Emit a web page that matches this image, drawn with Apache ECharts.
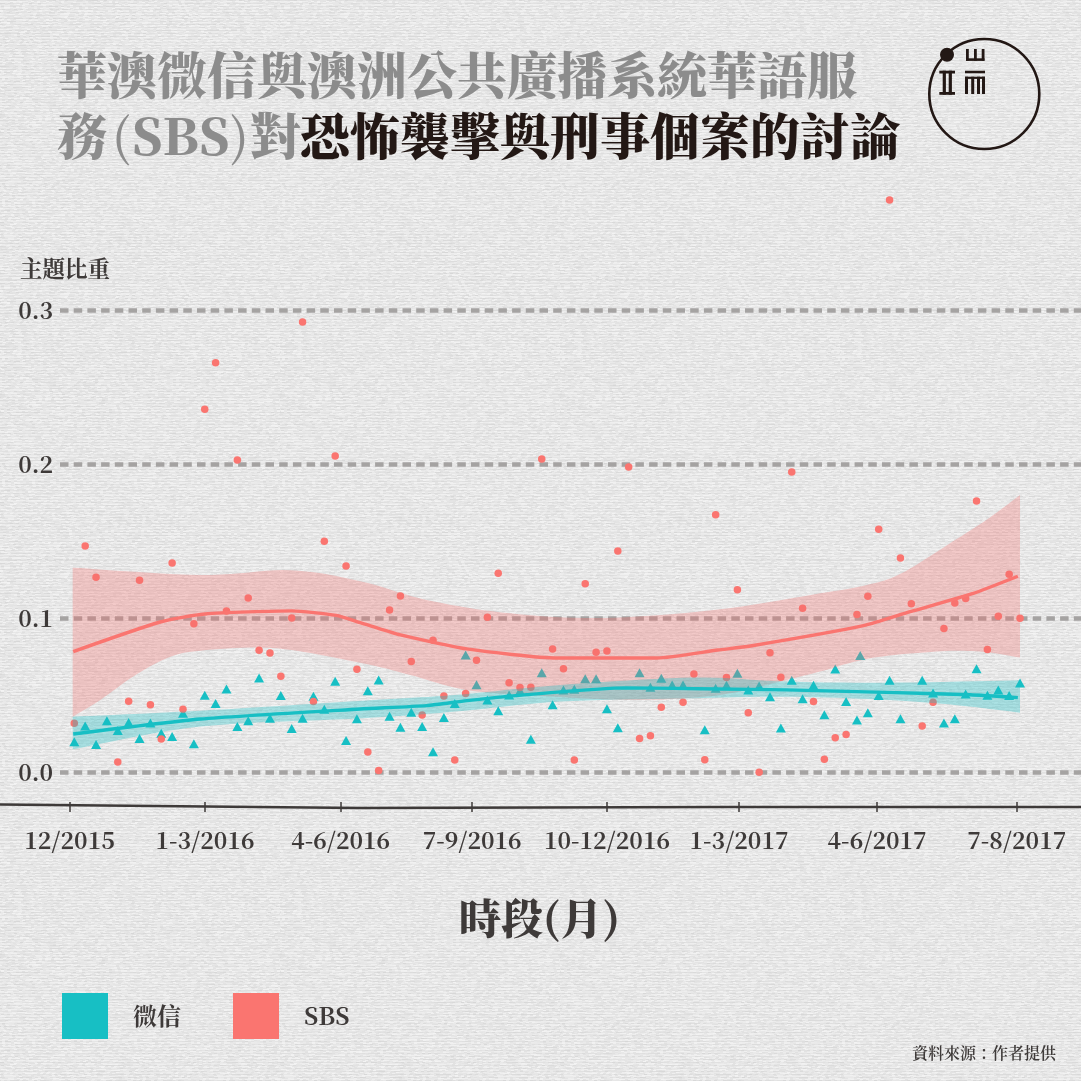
<!DOCTYPE html>
<html>
<head>
<meta charset="utf-8">
<title>華澳微信與澳洲公共廣播系統華語服務(SBS)對恐怖襲擊與刑事個案的討論</title>
<style>
html,body{margin:0;padding:0;background:#e3e3e3;}
#echarts_main{width:1081px;height:1081px;}
</style>
<script src="https://cdn.jsdelivr.net/npm/echarts@6/dist/echarts.min.js"></script>
</head>
<body>
<div id="echarts_main"></div>
<script type="text/javascript">
// 時段 (x is counted in weeks from the first point)
var tickWeeks = [-0.44, 12.02, 24.5, 36.6, 49.0, 61.15, 73.85, 86.7];
var tickLabels = ['12/2015', '1-3/2016', '4-6/2016', '7-9/2016', '10-12/2016', '1-3/2017', '4-6/2017', '7-8/2017'];
var shareTicks = [0, 0.1, 0.2, 0.3];

// 微信 points
var wechatWeek = [0,1,2,3,4,5,6,7,8,9,10,11,12,13,14,15,16,17,18,19,20,21,22,23,24,25,26,27,28,29,30,31,32,33,34,35,36,37,38,39,40,41,42,43,44,45,46,47,48,49,50,52,53,54,55,56,58,59,60,61,62,63,64,65,66,67,68,69,70,71,72,72.3,73,74,75,76,78,79,80,81,82,83,84,85,86,87];
var wechatShare = [.0199,.0301,.018,.0335,.0271,.0323,.0219,.032,.0253,.0232,.0383,.0186,.05,.0446,.0541,.0297,.0335,.0613,.0351,.0498,.0284,.0351,.0494,.0409,.0591,.0206,.0348,.053,.06,.0364,.0292,.039,.0297,.0134,.0355,.0446,.0762,.0569,.047,.04,.0502,.053,.0214,.0647,.0439,.0535,.0539,.0608,.0608,.0413,.029,.0647,.0552,.061,.0567,.0567,.0277,.0545,.0565,.0643,.0535,.0561,.0491,.0288,.0597,.0478,.0565,.0374,.0671,.0459,.034,.0758,.0387,.0498,.0597,.0348,.0597,.0515,.032,.0348,.0509,.0673,.05,.0535,.0498,.058];

// SBS points
var sbsWeek = [0,1,2,4,5,6,7,8,9,10,11,12,13,14,15,16,17,18,19,20,21,22,23,24,25,26,27,28,29,30,31,32,33,34,35,36,37,38,39,40,41,42,43,44,45,46,47,48,49,50,51,52,53,54,56,57,58,59,60,61,62,63,64,65,66,67,68,69,70,71,72,73,74,75,76,77,78,79,80,81,82,83,84,85,86,87];
var sbsShare = [.0318,.147,.1266,.0067,.0461,.1247,.0439,.0216,.1359,.0409,.0965,.2357,.266,.1048,.2028,.1132,.0792,.0775,.0623,.1002,.2924,.0459,.15,.2054,.134,.0669,.0132,.0011,.1054,.1145,.0719,.0372,.0857,.0496,.008,.0511,.0727,.1006,.1292,.0582,.055,.0552,.2034,.0801,.0673,.008,.1225,.0779,.0788,.1437,.1982,.0219,.0238,.0422,.0455,.0639,.0082,.1673,.0615,.1186,.0387,0,.0777,.0617,.195,.1065,.0459,.0084,.0225,.0245,.1024,.1143,.1578,.3716,.1392,.1095,.0301,.0455,.0933,.11,.1128,.1762,.0797,.1013,.1286,.1];

// smoothed trend and its confidence band, read at the visible turning points
var wechatTrendWeek = [-0.1,11.6,26.3,32.4,36.1,41.6,50.8,59.3,65.5,74.7,82.4,86.8];
var wechatTrend = [.0249,.0346,.0411,.0433,.0465,.0504,.0548,.0541,.0535,.0519,.0504,.0485];
var wechatUpperWeek = [-0.15,11.6,26.5,35,44.7,57,65.5,74.7,87];
var wechatUpper = [.0361,.04,.0465,.0502,.0567,.0615,.0589,.0582,.0597];
var wechatLowerWeek = [-0.15,11.6,26.5,35,44.7,57,65.5,74.7,81,87];
var wechatLower = [.0149,.0297,.0351,.0394,.0459,.048,.0491,.047,.0437,.0387];

var sbsTrendWeek = [-0.1,7.9,12,20,24.1,26.3,30,36.1,44.4,53.6,59.2,62.2,72.6,76.9,82.7,86.8];
var sbsTrend = [.0784,.0976,.1028,.1048,.1019,.0972,.0892,.0801,.0742,.0742,.0794,.082,.0952,.1043,.1162,.1273];
var sbsUpperWeek = [-0.15,11.6,19.9,26.5,32.4,40.1,48.7,59.4,68.6,72.9,76.1,80.8,83.9,87];
var sbsUpper = [.1329,.1281,.1312,.1238,.1119,.1032,.1002,.1058,.1162,.1216,.1292,.1498,.1639,.18];
var sbsLowerWeek = [-0.15,2.4,5.4,8.5,11.6,18.6,26.5,30.9,36.1,43,51.7,59.4,65.5,68.6,73.2,79.3,83.3,87];
var sbsLower = [.0361,.047,.0621,.074,.079,.0805,.0708,.0632,.0535,.0495,.047,.0502,.06,.0654,.074,.0784,.0784,.0745];

var TEAL = '#17bfc4';
var RED = '#fa7570';
var INK = '#3e3a39';
var SERIF = '"Noto Serif CJK TC","Liberation Serif",serif';

function zip(xs, ys){
	var out = [];
	for(var i = 0; i < xs.length; i++){ out.push([xs[i], ys[i]]); }
	return out;
}

// paper texture, uses a fixed hash so every render is the same
function paper(){
	var c = document.createElement('canvas');
	c.width = c.height = 280;
	var ctx = c.getContext('2d');
	var img = ctx.createImageData(280, 280);
	function h(a, b){
		var s = Math.sin(a * 127.1 + b * 311.7) * 43758.5453;
		return s - Math.floor(s);
	}
	for(var y = 0; y < 280; y++){
		for(var x = 0; x < 280; x++){
			var seg = Math.floor(x / 3 + h(y, 3) * 9);
			var v = 222 + h(seg, y) * 18 + (y % 3 == 0 ? -7 : 3);
			var k = (y * 280 + x) * 4;
			img.data[k] = img.data[k + 1] = img.data[k + 2] = v;
			img.data[k + 3] = 255;
		}
	}
	ctx.putImageData(img, 0, 0);
	return c;
}

// catmull-rom through the pixel points, so the band edges are not angular
function curve(pts){
	var out = [];
	for(var i = 0; i < pts.length - 1; i++){
		var p0 = pts[Math.max(i - 1, 0)], p1 = pts[i], p2 = pts[i + 1], p3 = pts[Math.min(i + 2, pts.length - 1)];
		for(var t = 0; t < 1; t += 0.1){
			var t2 = t * t, t3 = t2 * t;
			out.push([
				0.5 * (2 * p1[0] + (p2[0] - p0[0]) * t + (2 * p0[0] - 5 * p1[0] + 4 * p2[0] - p3[0]) * t2 + (3 * p1[0] - p0[0] - 3 * p2[0] + p3[0]) * t3),
				0.5 * (2 * p1[1] + (p2[1] - p0[1]) * t + (2 * p0[1] - 5 * p1[1] + 4 * p2[1] - p3[1]) * t2 + (3 * p1[1] - p0[1] - 3 * p2[1] + p3[1]) * t3)
			]);
		}
	}
	out.push(pts[pts.length - 1]);
	return out;
}

function bandSeries(upper, lower, color, z){
	return {
		type: 'custom',
		z: z,
		silent: true,
		data: [[0, 0]],
		renderItem: function(params, api){
			var top = curve(upper.map(function(d){ return api.coord(d); }));
			var bottom = curve(lower.map(function(d){ return api.coord(d); }));
			return {
				type: 'polygon',
				shape: {points: top.concat(bottom.reverse())},
				style: {fill: color}
			};
		}
	};
}

function trendSeries(data, color, z){
	return {
		type: 'line',
		z: z,
		data: data,
		smooth: 0.2,
		showSymbol: false,
		silent: true,
		lineStyle: {color: color, width: 3.4}
	};
}

function logoRect(x, y, w, h){
	return {type: 'rect', shape: {x: x, y: y, width: w, height: h}, style: {fill: '#231815'}};
}

var option = {
	animation: false,
	backgroundColor: {image: paper(), repeat: 'repeat'},
	textStyle: {fontFamily: SERIF},
	grid: {left: 60, right: 0, top: 180, bottom: 279},
	legend: {
		left: 62,
		top: 993,
		padding: 0,
		itemWidth: 46,
		itemHeight: 46,
		itemGap: 52,
		selectedMode: false,
		textStyle: {fontSize: 24, color: INK, fontWeight: 700, padding: [0, 0, 0, 20], fontFamily: SERIF},
		data: [
			{name: '微信', icon: 'rect', itemStyle: {color: TEAL}},
			{name: 'SBS', icon: 'rect', itemStyle: {color: RED}}
		]
	},
	xAxis: {
		type: 'value',
		min: -1.3155,
		max: 92.61,
		splitLine: {show: false},
		axisLine: {show: false, onZero: false},
		axisTick: {show: true, length: 10, customValues: tickWeeks, lineStyle: {color: INK, width: 1.5}},
		axisLabel: {
			margin: 27,
			fontSize: 23,
			fontWeight: 700,
			color: INK,
			fontFamily: SERIF,
			customValues: tickWeeks,
			formatter: function(v){ return tickLabels[tickWeeks.indexOf(v)]; }
		}
	},
	yAxis: {
		type: 'value',
		min: -0.01929,
		max: 0.38461,
		axisLine: {show: false},
		axisTick: {show: false, customValues: shareTicks},
		splitLine: {show: true, lineStyle: {color: '#a5a3a2', width: 4.5, type: [8.5, 5.2]}},
		axisLabel: {
			margin: 7,
			fontSize: 23,
			fontWeight: 700,
			color: INK,
			fontFamily: SERIF,
			customValues: shareTicks,
			formatter: function(v){ return v.toFixed(1); }
		}
	},
	series: [
		{name: '微信', type: 'scatter', z: 2, symbol: 'triangle', symbolSize: [10, 9], itemStyle: {color: TEAL, opacity: 1}, data: zip(wechatWeek, wechatShare)},
		{name: 'SBS', type: 'scatter', z: 3, symbol: 'circle', symbolSize: 7.5, itemStyle: {color: RED, opacity: 1}, data: zip(sbsWeek, sbsShare)},
		bandSeries(zip(sbsUpperWeek, sbsUpper), zip(sbsLowerWeek, sbsLower), 'rgba(245,110,105,0.3)', 4),
		bandSeries(zip(wechatUpperWeek, wechatUpper), zip(wechatLowerWeek, wechatLower), 'rgba(23,191,196,0.33)', 5),
		trendSeries(zip(sbsTrendWeek, sbsTrend), RED, 6),
		trendSeries(zip(wechatTrendWeek, wechatTrend), TEAL, 7)
	],
	graphic: [
		// title
		{
			type: 'text', left: 57, top: 50, z: 10,
			style: {text: '華澳微信與澳洲公共廣播系統華語服', font: '900 50px ' + SERIF, fill: '#8c8c8c'}
		},
		{type: 'text', left: 57, top: 111, z: 10, style: {text: '務', font: '900 50px ' + SERIF, fill: '#8c8c8c'}},
		{type: 'text', left: 112, top: 111, z: 10, style: {text: '(', font: '500 50px ' + SERIF, fill: '#8c8c8c'}},
		{type: 'text', left: 132, top: 111, z: 10, style: {text: 'SBS', font: '900 50px ' + SERIF, fill: '#8c8c8c'}},
		{type: 'text', left: 230, top: 111, z: 10, style: {text: ')', font: '500 50px ' + SERIF, fill: '#8c8c8c'}},
		{type: 'text', left: 250, top: 111, z: 10, style: {text: '對', font: '900 50px ' + SERIF, fill: '#8c8c8c'}},
		{
			type: 'text', left: 300, top: 111, z: 10,
			style: {text: '恐怖襲擊與刑事個案的討論', font: '900 50px ' + SERIF, fill: '#231815'}
		},
		// axis titles and source
		{type: 'text', left: 20, top: 257, z: 10, style: {text: '主題比重', font: '700 22.5px ' + SERIF, fill: INK}},
		{type: 'text', left: 459, top: 897, z: 10, style: {text: '時段', font: '900 42px ' + SERIF, fill: INK}},
		{type: 'text', left: 543, top: 897, z: 10, style: {text: '(月)', font: '900 42px ' + SERIF, fill: INK}},
		{type: 'text', right: 25, top: 1045, z: 10, style: {text: '資料來源：作者提供', font: '600 16px ' + SERIF, fill: INK}},
		// bent axis rule
		{
			type: 'polyline', z: 10, silent: true,
			shape: {points: [[0, 804.5], [360, 808], [720, 807], [1081, 807]]},
			style: {stroke: INK, lineWidth: 2.5, fill: null}
		},
		// logo
		{
			type: 'group', z: 10, silent: true,
			children: [
				{type: 'circle', shape: {cx: 984.3, cy: 94, r: 55}, style: {stroke: '#231815', lineWidth: 2.6, fill: null}},
				{type: 'circle', shape: {cx: 947, cy: 54.7, r: 7}, style: {fill: '#231815'}},
				logoRect(939.3, 70.7, 15.7, 2.8), logoRect(939.3, 92, 15.7, 2.8),
				logoRect(942.7, 70.7, 3.2, 24), logoRect(948.7, 70.7, 3.2, 24),
				logoRect(966, 49, 2.8, 11.7), logoRect(974, 49, 2.8, 11.7), logoRect(981.7, 49, 2.8, 11.7),
				logoRect(966, 58.3, 18.5, 2.6),
				logoRect(965, 70.7, 20, 2.6), logoRect(965, 76.7, 20, 2.2),
				logoRect(965, 76.7, 3, 17.3), logoRect(971.2, 76.7, 3, 17.3), logoRect(977, 76.7, 3, 17.3), logoRect(982, 76.7, 3, 17.3)
			]
		}
	]
};

var initEcharts = echarts.init(document.getElementById('echarts_main'));
initEcharts.setOption(option);
</script>
</body>
</html>
